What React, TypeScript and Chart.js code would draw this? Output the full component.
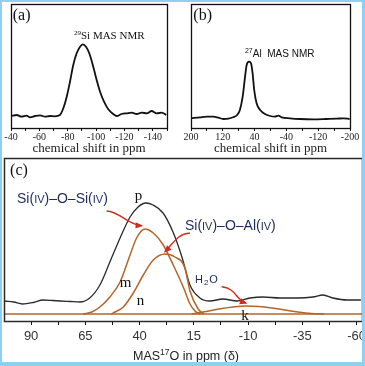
import React, { useEffect, useRef } from 'react';
import { Chart, registerables } from 'chart.js';

Chart.register(...registerables);

// ---------- Panel (a): 29Si MAS NMR ----------
const siPpm = [-40, -44, -47.5, -51, -53.4, -57, -60.5, -64, -67.5, -71, -74.5, -76.9, -79.3, -81.6, -83.9, -86.3, -88.7, -90.6, -92.9, -95.2, -98, -100.4, -102.8, -105.6, -108.6, -112.1, -114.5, -118, -121.6, -125.1, -128.6, -132.2, -135.7, -139.2, -142.7, -146.3, -149.5];
const siIntensity = [12, 13, 11.3, 12.3, 10.7, 12, 12.7, 11.3, 12, 11.7, 13, 19.7, 31.3, 46.3, 63, 74.7, 81.3, 83.7, 81.3, 74.7, 61.3, 48, 36.3, 26.3, 18.7, 14, 12, 14, 14.7, 15.3, 14, 15.3, 14.7, 17, 14.7, 15.3, 13];
const siTicks = [-40, -50, -60, -70, -80, -90, -100, -110, -120, -130, -140, -150];
const siTickLabels = [-40, -60, -80, -100, -120, -140];

// ---------- Panel (b): 27Al MAS NMR ----------
const alPpm = [200, 177, 160, 144, 131, 119, 106, 94, 84, 77, 70, 64, 60, 54, 49, 45, 41, 35, 26, 14, 1, -11, -20, -28, -49, -74, -108, -141, -167, -183, -199];
const alIntensity = [9.7, 10.7, 11.3, 11.3, 10.3, 9, 9.3, 10.7, 13, 18, 31.3, 51.3, 63, 66.3, 64.7, 54.7, 38, 24.7, 18, 14, 12, 11.3, 12.3, 10.7, 9.7, 9, 8.7, 9, 9.3, 9.7, 9];
const alTicks = [200, 160, 120, 80, 40, 0, -40, -80, -120, -160, -200];
const alTickLabels = [200, 120, 40, -40, -120, -200];

// ---------- Panel (c): MAS 17O ----------
const oPpm = [102, 98, 94, 89, 84.5, 80, 76.5, 72, 67.5, 63, 58.3, 53.7, 49, 44.4, 40.7, 37.1, 33.8, 29.2, 24.6, 20.5, 16.8, 12.2, 7.6, 1.6, -4.9, -10.9, -16.9, -24.7, -32.5, -39.9, -44.5, -49.1, -55.6, -62];
const oTotal = [20, 19, 17, 18.5, 21, 20.5, 20, 19.5, 19, 23, 36, 59, 83, 104, 114, 118, 116, 108, 89, 64, 36, 23, 20, 22, 20, 23, 24, 23, 23, 24, 26, 23, 21, 21];
const mPpm = [66, 62, 58.3, 53.7, 49, 44.4, 41.4, 37.5, 33.7, 29.1, 24.5, 19.5, 17, 14.5, 12];
const mFit = [7, 9, 14, 24, 39, 66, 83, 92, 88, 76, 56, 32, 18, 10, 7];
const nPpm = [53, 51.3, 47.5, 42.9, 38.3, 33.7, 28.3, 23.7, 19.1, 16.8, 13, 10.5];
const nFit = [7, 9, 14, 28, 46, 61, 67, 64, 53, 30, 12, 7];
const kPpm = [16, 12, 7, 2, -3, -9, -15, -21, -27, -33, -39, -45];
const kFit = [7, 8.5, 10.5, 12.5, 14, 15, 14.5, 13, 11, 9, 7.5, 7];
const basePpm = [102.5, -62.5];
const baseFit = [7, 7];
const oTicks = [90, 77.5, 65, 52.5, 40, 27.5, 15, 2.5, -10, -22.5, -35, -47.5, -60];
const oTickLabels = [90, 65, 40, 15, -10, -35, -60];

const SERIF = '"Liberation Serif", "Times New Roman", serif';
const SANS = '"Liberation Sans", Arial, sans-serif';
const BROWN = '#b5652a';
const RED = '#d42a1c';
const NAVY = '#1d2a5c';

type Seg = { t: string; size: number; rise?: number; gap?: number };
type Note = { segs: Seg[]; x: number; y: number; family: string; color: string; align?: 'left' | 'center' };
type Arrow = { pts: [number, number][] };

function drawSegs(ctx: CanvasRenderingContext2D, segs: Seg[], x: number, y: number, family: string, color: string, align: 'left' | 'center' = 'left') {
  ctx.save();
  ctx.fillStyle = color;
  ctx.textBaseline = 'alphabetic';
  ctx.textAlign = 'left';
  let total = 0;
  for (const s of segs) {
    ctx.font = `${s.size}px ${family}`;
    total += ctx.measureText(s.t).width + (s.gap || 0);
  }
  let cx = align === 'center' ? x - total / 2 : x;
  for (const s of segs) {
    ctx.font = `${s.size}px ${family}`;
    ctx.fillText(s.t, cx, y - (s.rise || 0));
    cx += ctx.measureText(s.t).width + (s.gap || 0);
  }
  ctx.restore();
}

function notesPlugin(notes: Note[], arrows: Arrow[], extra?: (chart: any) => void) {
  return {
    id: 'notes',
    afterDraw(chart: any) {
      const ctx: CanvasRenderingContext2D = chart.ctx;
      const xs = chart.scales.x;
      const ys = chart.scales.y;
      for (const n of notes) {
        drawSegs(ctx, n.segs, xs.getPixelForValue(n.x), ys.getPixelForValue(n.y), n.family, n.color, n.align);
      }
      for (const a of arrows) {
        const p = a.pts.map(([vx, vy]) => ({ x: xs.getPixelForValue(vx), y: ys.getPixelForValue(vy) }));
        ctx.save();
        ctx.strokeStyle = RED;
        ctx.fillStyle = RED;
        ctx.lineWidth = 1.4;
        ctx.beginPath();
        ctx.moveTo(p[0].x, p[0].y);
        ctx.bezierCurveTo(p[1].x, p[1].y, p[2].x, p[2].y, p[3].x, p[3].y);
        ctx.stroke();
        const ang = Math.atan2(p[3].y - p[2].y, p[3].x - p[2].x);
        const L = 6, W = 3.2;
        const bx = p[3].x - L * Math.cos(ang), by = p[3].y - L * Math.sin(ang);
        ctx.beginPath();
        ctx.moveTo(p[3].x + 1.5 * Math.cos(ang), p[3].y + 1.5 * Math.sin(ang));
        ctx.lineTo(bx - W * Math.sin(ang), by + W * Math.cos(ang));
        ctx.lineTo(bx + W * Math.sin(ang), by - W * Math.cos(ang));
        ctx.closePath();
        ctx.fill();
        ctx.restore();
      }
      if (extra) extra(chart);
    },
  };
}

function framePlugin(color: string, width: number) {
  return {
    id: 'frame',
    afterDatasetsDraw(chart: any) {
      const { left, top, right, bottom } = chart.chartArea;
      const ctx: CanvasRenderingContext2D = chart.ctx;
      ctx.save();
      ctx.strokeStyle = color;
      ctx.lineWidth = width;
      ctx.strokeRect(Math.round(left) + 0.5, Math.round(top) + 0.5, Math.round(right - left), Math.round(bottom - top));
      ctx.restore();
    },
  };
}

function ds(xs: number[], ys: number[], color: string, width: number) {
  return {
    data: xs.map((x, i) => ({ x, y: ys[i] })),
    borderColor: color,
    borderWidth: width,
    pointRadius: 0,
    fill: false,
    cubicInterpolationMode: 'monotone' as const,
  };
}

function xAxis(o: { min: number; max: number; ticks: number[]; labels: number[]; height: number; tickLength: number; pad: number; font: any; color: string; title?: string; titleFont?: any }) {
  return {
    type: 'linear' as const,
    reverse: true,
    min: o.min,
    max: o.max,
    afterBuildTicks: (s: any) => {
      s.ticks = o.ticks.map((v) => ({ value: v }));
    },
    afterFit: (s: any) => {
      s.height = o.height;
      s.paddingLeft = 0;
      s.paddingRight = 0;
      s.paddingTop = 0;
      s.paddingBottom = 0;
    },
    grid: { display: true, drawOnChartArea: false, drawTicks: true, tickLength: o.tickLength, color: '#111', lineWidth: 1 },
    border: { display: false },
    ticks: {
      autoSkip: false,
      maxRotation: 0,
      minRotation: 0,
      padding: o.pad,
      color: o.color,
      font: o.font,
      callback: (v: any) => (o.labels.includes(Number(v)) ? String(v) : ''),
    },
    title: o.title
      ? { display: true, text: o.title, color: '#222', font: o.titleFont, padding: { top: 0, bottom: 0 } }
      : { display: false },
  };
}

const baseOptions = {
  responsive: false,
  maintainAspectRatio: false,
  animation: false as const,
  events: [] as any[],
};

const aNotes: Note[] = [
  { segs: [{ t: '(a)', size: 16 }], x: -41.2, y: 108, family: SERIF, color: '#111' },
  { segs: [{ t: '29', size: 7, rise: 4 }, { t: 'Si MAS NMR', size: 11 }], x: -84.4, y: 89, family: SERIF, color: '#111' },
];
const bNotes: Note[] = [
  { segs: [{ t: '(b)', size: 16 }], x: 194.2, y: 108, family: SERIF, color: '#111' },
  { segs: [{ t: '27', size: 7, rise: 4 }, { t: 'Al  MAS NMR', size: 10 }], x: 64.2, y: 70.7, family: SANS, color: '#111' },
];
const cNotes: Note[] = [
  { segs: [{ t: '(c)', size: 16 }], x: 99.7, y: 146, family: SERIF, color: '#111' },
  { segs: [{ t: 'Si(', size: 14 }, { t: 'IV', size: 11 }, { t: ')–O–Si(', size: 14 }, { t: 'IV', size: 11 }, { t: ')', size: 14 }], x: 96.5, y: 118, family: SANS, color: NAVY },
  { segs: [{ t: 'Si(', size: 14 }, { t: 'IV', size: 11 }, { t: ')–O–Al(', size: 14 }, { t: 'IV', size: 11 }, { t: ')', size: 14 }], x: 19.1, y: 91, family: SANS, color: NAVY },
  { segs: [{ t: 'p', size: 15 }], x: 40.5, y: 121, family: SERIF, color: '#111', align: 'center' },
  { segs: [{ t: 'm', size: 15 }], x: 46.5, y: 34, family: SERIF, color: '#111', align: 'center' },
  { segs: [{ t: 'n', size: 15 }], x: 39.6, y: 16, family: SERIF, color: '#111', align: 'center' },
  { segs: [{ t: 'k', size: 15 }], x: -8.6, y: 1, family: SERIF, color: '#111', align: 'center' },
  { segs: [{ t: 'H', size: 11, gap: 1 }, { t: '2', size: 8, rise: -2, gap: 1 }, { t: 'O', size: 11 }], x: 14.5, y: 38, family: SANS, color: NAVY },
];
const cArrows: Arrow[] = [
  { pts: [[55.2, 110], [49.1, 109.3], [45.2, 96], [39.1, 95.3]] },
  { pts: [[16.8, 87.7], [22.3, 88], [25.1, 76], [28.3, 69.3]] },
  { pts: [[2.2, 34.3], [-4.4, 33], [-4.4, 21], [-9, 18]] },
];

function buildA(canvas: HTMLCanvasElement) {
  return new Chart(canvas, {
    type: 'line',
    data: { datasets: [ds(siPpm, siIntensity, '#111', 1.8)] },
    options: {
      ...baseOptions,
      layout: { padding: { left: 11, top: 4, right: 15, bottom: 0 } },
      plugins: { legend: { display: false }, tooltip: { enabled: false } },
      scales: {
        x: xAxis({ min: -150, max: -40, ticks: siTicks, labels: siTickLabels, height: 28, tickLength: 3, pad: 0, font: { family: SERIF, size: 10 }, color: '#222', title: 'chemical shift in ppm', titleFont: { family: SERIF, size: 13 } }),
        y: { type: 'linear', display: false, min: 0, max: 124 },
      },
    } as any,
    plugins: [framePlugin('#111', 1.3), notesPlugin(aNotes, [])],
  });
}

function buildB(canvas: HTMLCanvasElement) {
  return new Chart(canvas, {
    type: 'line',
    data: { datasets: [ds(alPpm, alIntensity, '#111', 1.8)] },
    options: {
      ...baseOptions,
      layout: { padding: { left: 9, top: 4, right: 15, bottom: 0 } },
      plugins: { legend: { display: false }, tooltip: { enabled: false } },
      scales: {
        x: xAxis({ min: -200, max: 200, ticks: alTicks, labels: alTickLabels, height: 28, tickLength: 3, pad: 0, font: { family: SERIF, size: 10 }, color: '#222', title: 'chemical shift in ppm', titleFont: { family: SERIF, size: 13 } }),
        y: { type: 'linear', display: false, min: 0, max: 124 },
      },
    } as any,
    plugins: [framePlugin('#111', 1.3), notesPlugin(bNotes, [])],
  });
}

function buildC(canvas: HTMLCanvasElement) {
  const drawTitle = (chart: any) => {
    const { left, right, bottom } = chart.chartArea;
    drawSegs(chart.ctx, [{ t: 'MAS', size: 12.5 }, { t: '17', size: 8.5, rise: 5 }, { t: 'O in ppm (δ)', size: 12.5 }], (left + right) / 2 + 3, bottom + 39, SANS, '#222', 'center');
  };
  return new Chart(canvas, {
    type: 'line',
    data: {
      datasets: [
        ds(basePpm, baseFit, BROWN, 1.5),
        ds(kPpm, kFit, BROWN, 1.5),
        ds(nPpm, nFit, BROWN, 1.5),
        ds(mPpm, mFit, BROWN, 1.5),
        ds(oPpm, oTotal, '#2a2a2a', 1.3),
      ],
    },
    options: {
      ...baseOptions,
      layout: { padding: { left: 4, top: 2, right: 3, bottom: 4 } },
      plugins: { legend: { display: false }, tooltip: { enabled: false } },
      scales: {
        x: xAxis({ min: -62.5, max: 102.5, ticks: oTicks, labels: oTickLabels, height: 41, tickLength: 4, pad: 4, font: { family: SANS, size: 13 }, color: '#333' }),
        y: { type: 'linear', display: false, min: 0, max: 163 },
      },
    } as any,
    plugins: [framePlugin('#2b2b2b', 1.5), notesPlugin(cNotes, cArrows, drawTitle)],
  });
}

function Panel(props: { build: (c: HTMLCanvasElement) => Chart; left: number; top: number; width: number; height: number }) {
  const ref = useRef<HTMLCanvasElement>(null);
  useEffect(() => {
    const chart = props.build(ref.current!);
    return () => chart.destroy();
  }, []);
  return (
    <canvas
      ref={ref}
      width={props.width}
      height={props.height}
      style={{ position: 'absolute', left: props.left, top: props.top, width: props.width, height: props.height, display: 'block' }}
    />
  );
}

export default function App() {
  useEffect(() => {
    document.body.style.margin = '0';
  }, []);
  return (
    <div style={{ position: 'relative', width: 365, height: 366, background: '#fff', overflow: 'hidden', margin: 0 }}>
      <Panel build={buildA} left={0} top={0} width={182} height={156} />
      <Panel build={buildB} left={182} top={0} width={183} height={156} />
      <Panel build={buildC} left={0} top={156} width={365} height={210} />
      <div
        style={{
          position: 'absolute',
          inset: 0,
          boxSizing: 'border-box',
          borderStyle: 'solid',
          borderColor: '#8ed0f2',
          borderWidth: '2px 3px 4px 2px',
          pointerEvents: 'none',
        }}
      />
    </div>
  );
}
